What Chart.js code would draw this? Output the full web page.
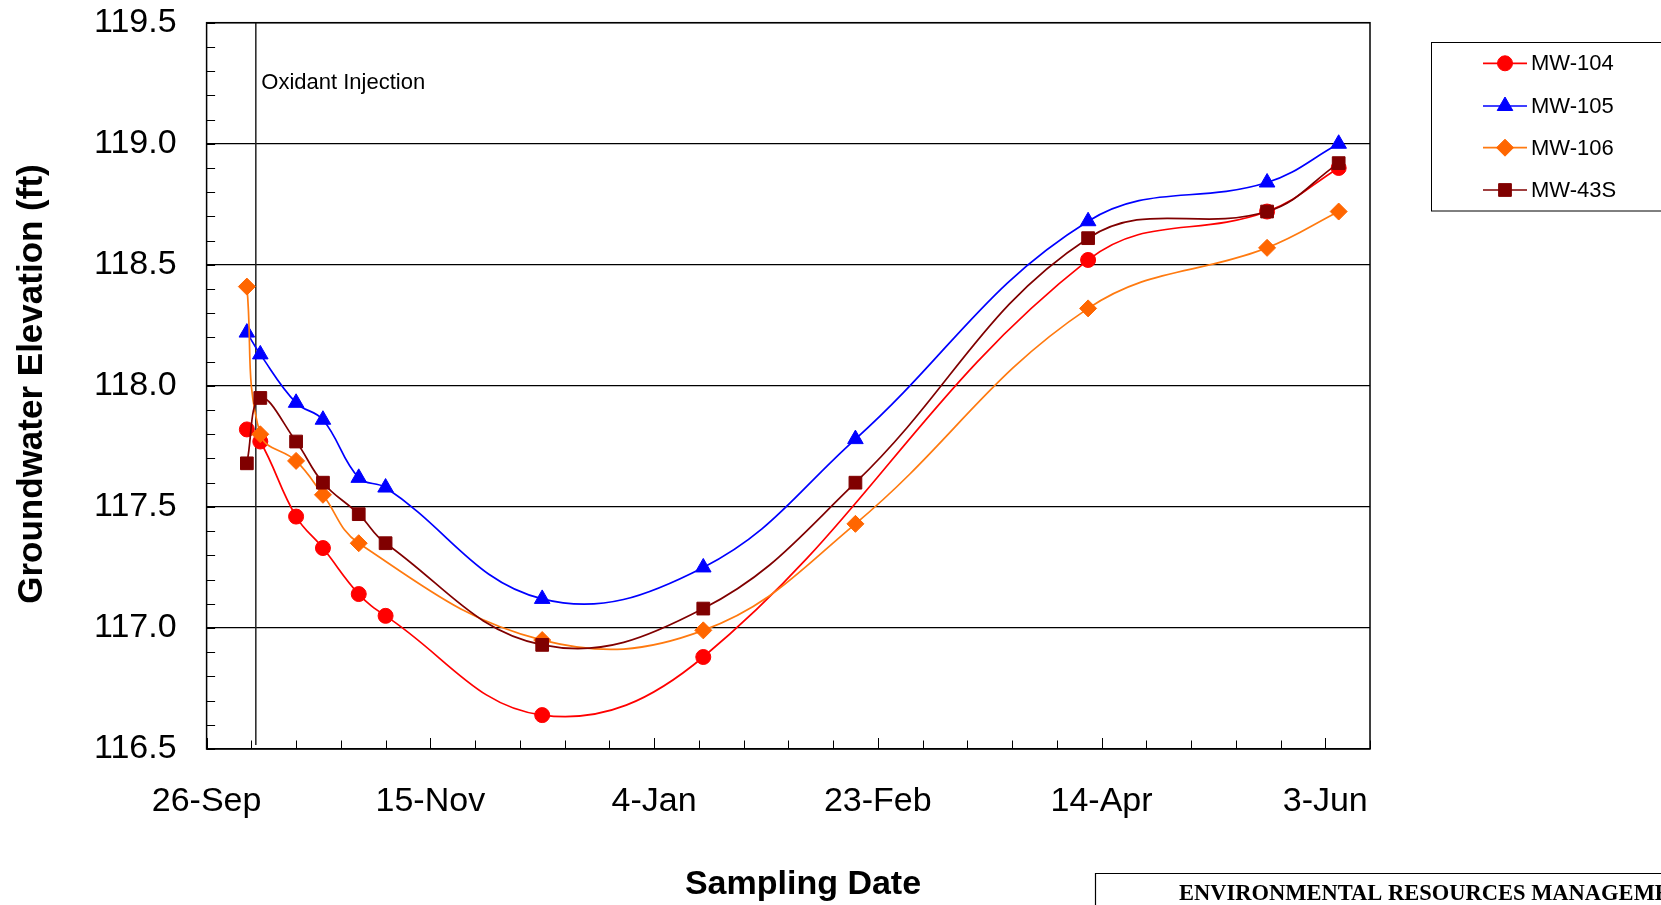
<!DOCTYPE html>
<html>
<head>
<meta charset="utf-8">
<script src="https://cdn.jsdelivr.net/npm/chart.js@4.4.0/dist/chart.umd.min.js"></script>
<style>
  html, body { margin: 0; padding: 0; background: #fff; }
  #wrap { width: 1661px; height: 905px; position: relative; }
</style>
</head>
<body>
<div id="wrap"><canvas id="gw-chart"></canvas></div>
<script>
// sampling dates and groundwater elevations (ft), null = not sampled
let sampleDates = ['2004-10-05', '2004-10-08', '2004-10-16', '2004-10-22', '2004-10-30', '2004-11-05',
  '2004-12-10', '2005-01-15', '2005-02-18', '2005-04-11', '2005-05-21', '2005-06-06'];
let mw104 = [117.82, 117.77, 117.46, 117.33, 117.14, 117.05, 116.64, 116.88, null, 118.52, 118.72, 118.90];
let mw105 = [118.22, 118.13, 117.93, 117.86, 117.62, 117.58, 117.12, 117.25, 117.78, 118.68, 118.84, 119.00];
let mw106 = [118.41, 117.80, 117.69, 117.55, 117.35, null, 116.95, 116.99, 117.43, 118.32, 118.57, 118.72];
let mw43s = [117.68, 117.95, 117.77, 117.60, 117.47, 117.35, 116.93, 117.08, 117.60, 118.61, 118.72, 118.92];

let seriesNames = ['MW-104', 'MW-105', 'MW-106', 'MW-43S'];
let axisStart = '2004-09-26';
let axisEnd = '2005-06-13';
let injectionDate = '2004-10-07';
let yMin = 116.5, yMax = 119.5;

const DAY = 86400000;
const months = ['Jan','Feb','Mar','Apr','May','Jun','Jul','Aug','Sep','Oct','Nov','Dec'];
let t0 = Date.parse(axisStart);
let toDay = s => Math.round((Date.parse(s) - t0) / DAY);
let dayLabel = d => {
  let dt = new Date(t0 + d * DAY);
  return dt.getUTCDate() + '-' + months[dt.getUTCMonth()];
};

function points(values) {
  let arr = [];
  values.forEach((v, i) => {
    if (v !== null) arr.push({ x: toDay(sampleDates[i]), y: v });
  });
  return arr;
}

const FONT = 'Arial, "Liberation Sans", sans-serif';
let isMajorY = v => Math.abs(v * 2 - Math.round(v * 2)) < 1e-6;

let styles = [
  { color: '#FF0000', line: '#FF0000', pointStyle: 'circle', radius: 7.5 },
  { color: '#0000FF', line: '#0000FF', pointStyle: 'triangle', radius: 9 },
  { color: '#FF6600', line: '#FF7A10', pointStyle: 'rectRot', radius: 8.5 },
  { color: '#800000', line: '#800000', pointStyle: 'rect', radius: 9 },
];
let allValues = [mw104, mw105, mw106, mw43s];

let datasets = seriesNames.map((name, i) => ({
  label: name,
  data: points(allValues[i]),
  borderColor: styles[i].line,
  backgroundColor: styles[i].color,
  pointBackgroundColor: styles[i].color,
  pointBorderColor: styles[i].color,
  pointBorderWidth: 1,
  pointStyle: styles[i].pointStyle,
  pointRadius: styles[i].radius,
  borderWidth: 1.7,
  tension: 0.4,
  order: 4 - i,
}));

// frame, inside tick marks, injection marker, titles, legend, ERM box
let decorations = {
  id: 'decorations',
  beforeDatasetsDraw(chart) {
    let ctx = chart.ctx, a = chart.chartArea;
    let xs = chart.scales.x, ys = chart.scales.y;
    ctx.save();
    ctx.strokeStyle = '#000';
    ctx.lineWidth = 1;
    ys.ticks.forEach(t => {
      let y = Math.round(ys.getPixelForValue(t.value)) + 0.5;
      ctx.beginPath(); ctx.moveTo(a.left, y); ctx.lineTo(a.left + 8.5, y); ctx.stroke();
    });
    xs.ticks.forEach(t => {
      let x = Math.round(xs.getPixelForValue(t.value)) + 0.5;
      let len = t.value % 50 === 0 ? 11 : 8.5;
      ctx.beginPath(); ctx.moveTo(x, a.bottom); ctx.lineTo(x, a.bottom - len); ctx.stroke();
    });
    // oxidant injection
    let ix = xs.getPixelForValue(toDay(injectionDate));
    ctx.strokeStyle = '#222';
    ctx.lineWidth = 1.5;
    ctx.beginPath(); ctx.moveTo(ix, a.top); ctx.lineTo(ix, a.bottom - 4); ctx.stroke();
    ctx.fillStyle = '#000';
    ctx.font = '22px ' + FONT;
    ctx.textBaseline = 'alphabetic';
    ctx.textAlign = 'left';
    ctx.fillText('Oxidant Injection', ix + 5.5, 89);
    ctx.restore();
  },
  afterDraw(chart) {
    let ctx = chart.ctx, a = chart.chartArea;
    ctx.save();
    ctx.strokeStyle = '#000';
    ctx.lineWidth = 1.5;
    ctx.strokeRect(a.left, a.top, a.right - a.left, a.bottom - a.top);

    // axis titles
    ctx.fillStyle = '#000';
    ctx.font = 'bold 34px ' + FONT;
    ctx.textAlign = 'center';
    ctx.textBaseline = 'alphabetic';
    ctx.fillText('Sampling Date', 803, 894);
    ctx.save();
    ctx.font = 'bold 35px ' + FONT;
    ctx.translate(32, 384);
    ctx.rotate(-Math.PI / 2);
    ctx.textBaseline = 'middle';
    ctx.fillText('Groundwater Elevation (ft)', 0, 0);
    ctx.restore();

    // legend
    ctx.lineWidth = 1;
    ctx.strokeStyle = '#000';
    ctx.strokeRect(1431.5, 42.5, 260, 168.5);
    let rows = [63.3, 106, 147.7, 190];
    chart.data.datasets.forEach((ds, i) => {
      let y = rows[i];
      ctx.strokeStyle = ds.borderColor;
      ctx.lineWidth = 1.7;
      ctx.beginPath(); ctx.moveTo(1483, y); ctx.lineTo(1527, y); ctx.stroke();
      ctx.fillStyle = ds.pointBackgroundColor;
      ctx.strokeStyle = ds.pointBorderColor;
      ctx.lineWidth = 1;
      Chart.helpers.drawPoint(ctx, { pointStyle: ds.pointStyle, radius: ds.pointRadius, rotation: 0, borderWidth: 1 }, 1505, y);
      ctx.fillStyle = '#000';
      ctx.font = '22px ' + FONT;
      ctx.textAlign = 'left';
      ctx.textBaseline = 'middle';
      ctx.fillText(ds.label, 1531, y + 1);
    });

    // company box at bottom right
    ctx.strokeStyle = '#000';
    ctx.lineWidth = 1.2;
    ctx.beginPath();
    ctx.moveTo(1095.5, 906); ctx.lineTo(1095.5, 873.5); ctx.lineTo(1662, 873.5);
    ctx.stroke();
    ctx.font = 'bold 22.5px "Times New Roman", "Liberation Serif", serif';
    ctx.textAlign = 'left';
    ctx.textBaseline = 'alphabetic';
    ctx.fillText('ENVIRONMENTAL RESOURCES MANAGEMENT', 1179, 900);
    ctx.restore();
  }
};

let renderChart = () => {
  let canvas = document.getElementById('gw-chart').getContext('2d');
  new Chart(canvas, {
    type: 'line',
    data: { datasets: datasets },
    plugins: [decorations],
    options: {
      responsive: true,
      maintainAspectRatio: false,
      animation: false,
      layout: { padding: { left: 0, top: 22.7, right: 291, bottom: 0 } },
      plugins: { legend: { display: false }, tooltip: { enabled: false } },
      scales: {
        x: {
          type: 'linear',
          min: 0,
          max: toDay(axisEnd),
          afterFit: s => { s.height = 156; s.paddingLeft = 0; s.paddingRight = 0; },
          grid: { display: false },
          border: { display: false },
          ticks: {
            stepSize: 10,
            autoSkip: false,
            maxRotation: 0,
            padding: 24,
            color: '#000',
            font: { family: FONT, size: 34 },
            callback: v => (v % 50 === 0 ? dayLabel(v) : ''),
          },
        },
        y: {
          min: yMin,
          max: yMax,
          afterFit: s => { s.width = 206.6; s.paddingTop = 0; s.paddingBottom = 0; },
          border: { display: false },
          grid: {
            drawTicks: false,
            color: c => (isMajorY(c.tick.value) ? '#000' : 'rgba(0,0,0,0)'),
            lineWidth: 1.2,
          },
          ticks: {
            stepSize: 0.1,
            maxTicksLimit: 100,
            autoSkip: false,
            padding: 30,
            color: '#000',
            font: { family: FONT, size: 34 },
            callback: v => (isMajorY(v) ? v.toFixed(1) : ''),
          },
        },
      },
    },
  });
};

renderChart();
</script>
</body>
</html>
